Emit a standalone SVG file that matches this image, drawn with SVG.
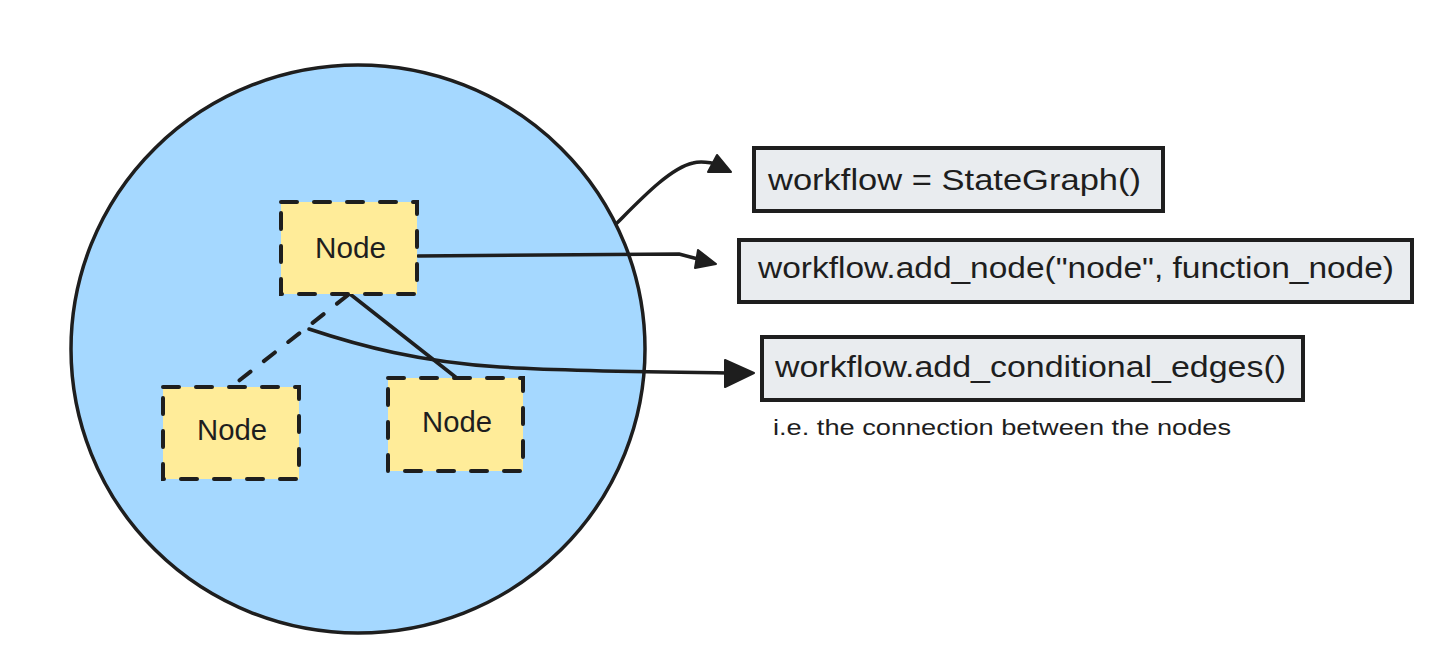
<svg xmlns="http://www.w3.org/2000/svg" width="1456" height="668" viewBox="0 0 1456 668">
  <style>
    .node rect { fill: #ffec99; stroke: #1e1e1e; stroke-width: 4; stroke-dasharray: 16 17; stroke-linecap: round; }
    .node text { font-family: "Liberation Sans", Arial, sans-serif; font-size: 29px; fill: #1e1e1e; }
    .code rect { fill: #e9ecef; stroke: #1e1e1e; stroke-width: 4; }
    .code text { font-family: "Liberation Sans", Arial, sans-serif; font-size: 29px; fill: #1e1e1e; }
    .caption { font-family: "Liberation Sans", Arial, sans-serif; font-size: 22px; fill: #1e1e1e; }
    .conn path.line { fill: none; stroke: #1e1e1e; stroke-width: 3.5; stroke-linecap: round; stroke-linejoin: round; }
    .conn path.dash { fill: none; stroke: #1e1e1e; stroke-width: 4; stroke-dasharray: 14 17; stroke-linecap: round; }
    .conn polygon { fill: #1e1e1e; stroke: #1e1e1e; stroke-width: 2; stroke-linejoin: round; }
  </style>
  <rect x="0" y="0" width="1456" height="668" fill="#ffffff"/>

  <g id="graph-circle">
    <ellipse cx="358" cy="349" rx="287" ry="284" fill="#a5d8ff" stroke="#1e1e1e" stroke-width="3.5"/>
  </g>

  <g id="connectors" class="conn">
    <path class="dash" d="M348,295 L231,387"/>
    <path class="line" d="M350,294 L458,379"/>
    <path class="line" d="M309,329 C360,346 420,362 500,367 C560,371 650,372 727,373"/>
    <polygon points="725,360 754,373 725,387"/>
    <path class="line" d="M418,256 L679,254 L698,259"/>
    <polygon points="698,250 716,264 695,268"/>
    <path class="line" d="M617,223 C640,200 670,168 693,163 C700,161 705,162 712,163"/>
    <polygon points="717,155 731,172 708,172"/>
  </g>

  <g id="node-top" class="node">
    <rect x="281" y="202" width="136" height="92"/>
    <text x="315" y="258" textLength="71" lengthAdjust="spacingAndGlyphs">Node</text>
  </g>
  <g id="node-left" class="node">
    <rect x="163" y="387" width="136" height="92"/>
    <text x="197" y="440" textLength="70" lengthAdjust="spacingAndGlyphs">Node</text>
  </g>
  <g id="node-right" class="node">
    <rect x="388" y="378" width="135" height="93"/>
    <text x="422" y="432" textLength="70" lengthAdjust="spacingAndGlyphs">Node</text>
  </g>

  <g id="code-stategraph" class="code">
    <rect x="754" y="148" width="409" height="63"/>
    <text x="768" y="190" textLength="373" lengthAdjust="spacingAndGlyphs">workflow = StateGraph()</text>
  </g>
  <g id="code-add-node" class="code">
    <rect x="739" y="240" width="673" height="62"/>
    <text x="758" y="278" textLength="636" lengthAdjust="spacingAndGlyphs">workflow.add_node("node", function_node)</text>
  </g>
  <g id="code-add-edges" class="code">
    <rect x="762" y="337" width="541" height="63"/>
    <text x="775" y="377" textLength="511" lengthAdjust="spacingAndGlyphs">workflow.add_conditional_edges()</text>
  </g>
  <g id="caption">
    <text class="caption" x="773" y="435" textLength="458" lengthAdjust="spacingAndGlyphs">i.e. the connection between the nodes</text>
  </g>
</svg>
